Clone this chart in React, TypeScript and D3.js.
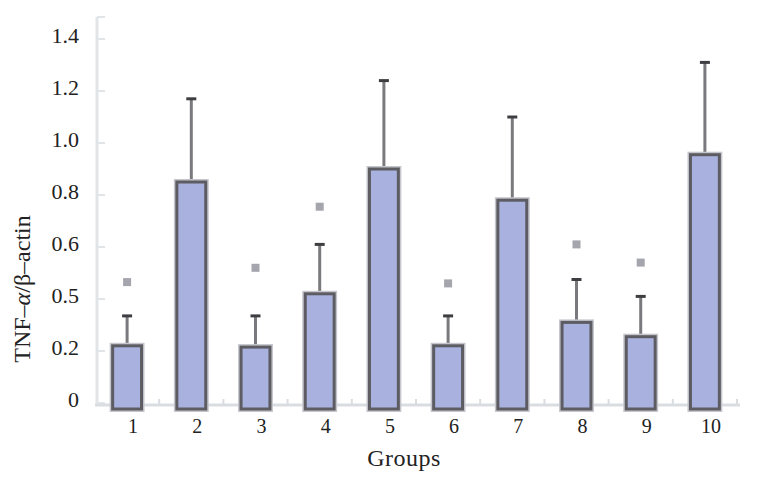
import React from 'react'
import * as d3 from 'd3'

// groups on the x axis
const groups = ['1', '2', '3', '4', '5', '6', '7', '8', '9', '10']
// mean ratio per group
const means = [0.22, 0.85, 0.215, 0.42, 0.9, 0.22, 0.78, 0.31, 0.255, 0.955]
// upper error (SD)
const sds = [0.115, 0.32, 0.12, 0.19, 0.34, 0.115, 0.32, 0.165, 0.155, 0.355]
// level of the significance mark (null = none)
const marks: (number | null)[] = [0.465, null, 0.52, 0.755, null, 0.46, null, 0.61, 0.54, null]
// y tick values and labels as printed
const yTicks = [0, 0.2, 0.4, 0.6, 0.8, 1.0, 1.2, 1.4]
const yTickLabels = ['0', '0.2', '0.5', '0.6', '0.8', '1.0', '1.2', '1.4']

const W = 767
const H = 480
const font = '"Liberation Serif", "DejaVu Serif", serif'

export default function App() {
  const x = d3.scaleBand<string>()
    .domain(groups)
    .range([95, 737])
    .paddingInner(0.55)
    .paddingOuter(0.275)
  const y = d3.scaleLinear().domain([0, 1.4]).range([403, 39])
  const step = x.step()
  const bw = x.bandwidth()
  const y0 = y(0)

  return (
    <svg width={W} height={H} style={{ position: 'fixed', left: 0, top: 0, background: '#fff' }}>
      {/* y axis */}
      <line x1={97} x2={97} y1={17} y2={y0 + 2} stroke="#e2e5e8" strokeWidth={3} />
      <line x1={97} x2={105} y1={17} y2={17} stroke="#e2e5e8" strokeWidth={2} />
      {yTicks.map((t, i) => (
        <g key={i}>
          <line x1={97} x2={105} y1={y(t)} y2={y(t)} stroke="#e2e5e8" strokeWidth={2} />
          <text x={79} y={y(t) - 4} dy="0.35em" textAnchor="end" fontFamily={font} fontSize={22} fill="#222">
            {yTickLabels[i]}
          </text>
        </g>
      ))}

      {/* x axis */}
      <line x1={95} x2={740} y1={y0 + 2} y2={y0 + 2} stroke="#d9dde1" strokeWidth={3} />
      {groups.map((g) => {
        const cx = (x(g) as number) + bw / 2
        return (
          <line key={g} x1={cx + step / 2} x2={cx + step / 2} y1={y0 - 4} y2={y0 + 2} stroke="#d9dde1" strokeWidth={2} />
        )
      })}

      {/* bars */}
      {groups.map((g, i) => {
        const bx = x(g) as number
        const cx = bx + bw / 2
        const top = y(means[i])
        const cap = y(means[i] + sds[i])
        const m = marks[i]
        return (
          <g key={g}>
            <line x1={cx} x2={cx} y1={cap} y2={top} stroke="#7a7a7e" strokeWidth={3} />
            <line x1={cx - 5} x2={cx + 5} y1={cap} y2={cap} stroke="#3e3e42" strokeWidth={3} />
            <rect x={bx - 1} y={top - 1} width={bw + 2} height={y0 + 8 - top} fill="none" stroke="#c4c6cc" strokeWidth={4} />
            <rect x={bx} y={top} width={bw} height={y0 + 6 - top} fill="#a9b2de" stroke="#5c5c62" strokeWidth={3} />
            {m !== null && (
              <rect x={cx - 4} y={y(m) - 4} width={8} height={8} fill="#a4a5ad" />
            )}
            <text x={cx + 6} y={433} textAnchor="middle" fontFamily={font} fontSize={20} fill="#222">
              {g}
            </text>
          </g>
        )
      })}

      {/* axis titles */}
      <text x={404} y={466} textAnchor="middle" fontFamily={font} fontSize={24} letterSpacing={0.5} fill="#222">Groups</text>
      <text transform="translate(30,289) rotate(-90)" textAnchor="middle" fontFamily={font} fontSize={24} fill="#222">
        TNF–<tspan fontStyle="italic">α</tspan>/β–actin
      </text>
    </svg>
  )
}
